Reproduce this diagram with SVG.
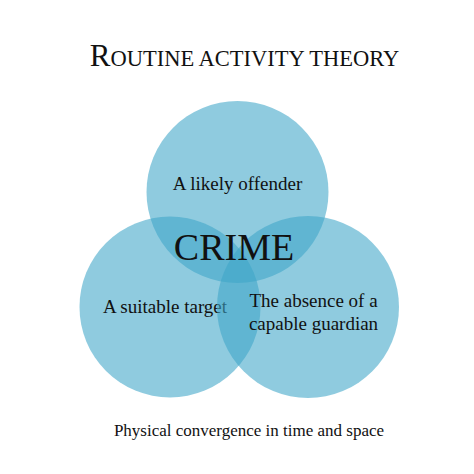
<svg xmlns="http://www.w3.org/2000/svg" width="474" height="474" viewBox="0 0 474 474">
<style>
.c{fill:rgb(62,166,200);fill-opacity:0.58}
.t{font-family:"Liberation Serif","Times New Roman",serif;fill:#111;text-anchor:middle}
.b{font-size:19px}
</style>
<rect width="474" height="474" fill="#fff"/>
<text class="t" x="244.5" y="66" font-size="22.5"><tspan font-size="31">R</tspan>OUTINE ACTIVITY THEORY</text>
<g id="offender">
<circle class="c" cx="237.5" cy="192" r="91"/>
<text class="t b" x="237.5" y="190">A likely offender</text>
</g>
<g id="target">
<circle class="c" cx="170" cy="307" r="90.5"/>
<text class="t b" x="165" y="313">A suitable target</text>
</g>
<g id="guardian">
<circle class="c" cx="308" cy="307" r="91"/>
<text class="t b" x="313.5" y="307">The absence of a</text>
<text class="t b" x="313.5" y="330">capable guardian</text>
</g>
<g id="crime">
<text class="t" x="234" y="260" font-size="38">CRIME</text>
</g>
<g id="connectors"/>
<text class="t" x="249" y="436" font-size="17">Physical convergence in time and space</text>
</svg>
